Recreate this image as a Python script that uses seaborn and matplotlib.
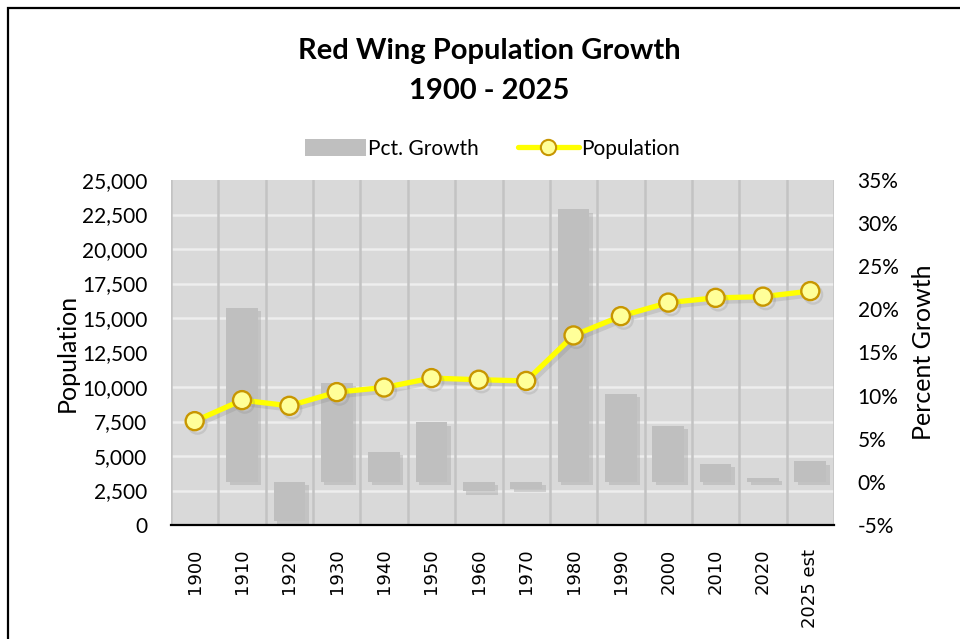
import matplotlib
matplotlib.use("Agg")
import matplotlib.pyplot as plt
import matplotlib.patheffects as pe
from matplotlib.lines import Line2D
from matplotlib.patches import Patch, Rectangle
from matplotlib.ticker import FuncFormatter, FixedLocator, MultipleLocator
import numpy as np
import pandas as pd
import seaborn as sns

years = ["1900", "1910", "1920", "1930", "1940", "1950", "1960", "1970",
         "1980", "1990", "2000", "2010", "2020", "2025 est"]
population = [7525, 9048, 8637, 9629, 9962, 10645, 10528, 10441,
              13736, 15134, 16116, 16459, 16547, 16950]
pct_growth = [0.0, 20.2, -4.5, 11.5, 3.5, 6.9, -1.1, -0.8,
              31.6, 10.2, 6.5, 2.1, 0.5, 2.4]

title = "Red Wing Population Growth\n1900 - 2025"

sns.set_theme(style="white")
plt.rcParams["font.family"] = ["Lato", "DejaVu Sans"]
plt.rcParams["text.color"] = "#000000"

df = pd.DataFrame({"year": years, "population": population, "pct": pct_growth})

fig = plt.figure(figsize=(9.6, 6.39), dpi=100)
ax = fig.add_axes([171 / 960, 1 - 525 / 639, (834 - 171) / 960, (525 - 180) / 639])
ax.set_facecolor("#d9d9d9")

# bars (percent growth) on main axes, scale shown on the right
sns.barplot(data=df, x="year", y="pct", ax=ax, color="#bfbfbf", saturation=1,
            width=0.67, zorder=3, linewidth=0)
for p in ax.patches:
    p.set_path_effects([pe.SimplePatchShadow(offset=(2.5, -2.5), shadow_rgbFace="#9a9a9a", alpha=0.35),
                        pe.Normal()])
ax.set_ylim(-5, 35)
ax.set_xlim(-0.5, len(years) - 0.5)

# line (population) on twin axes, scale shown on the left
ax2 = ax.twinx()
x_pos = np.arange(len(years))
sns.lineplot(x=x_pos, y=df["population"], ax=ax2, color="#ffff00", linewidth=3.8,
             marker="o", markersize=13, markerfacecolor="#ffff99",
             markeredgecolor="#c89600", markeredgewidth=1.7, zorder=5, sort=False)
for ln in ax2.lines:
    ln.set_path_effects([pe.SimpleLineShadow(offset=(2, -2.5), shadow_color="#808080", alpha=0.22),
                         pe.Normal()])
ax2.set_ylim(0, 25000)
ax2.set_xlim(-0.5, len(years) - 0.5)

# axis positions: population on left, percent on right
ax.yaxis.tick_right()
ax.yaxis.set_label_position("right")
ax2.yaxis.tick_left()
ax2.yaxis.set_label_position("left")

ax.yaxis.set_major_locator(MultipleLocator(5))
ax.yaxis.set_major_formatter(FuncFormatter(lambda v, _: f"{v:.0f}%"))
ax2.yaxis.set_major_locator(MultipleLocator(2500))
ax2.yaxis.set_major_formatter(FuncFormatter(lambda v, _: f"{v:,.0f}"))

# gridlines (aligned with population ticks) behind bars
grid_vals = np.arange(2500, 25001, 2500)
ax.yaxis.set_minor_locator(FixedLocator(-5 + grid_vals / 25000 * 40))
ax.grid(which="minor", axis="y", color="#eeeeee", linewidth=1.8, zorder=1)
ax.grid(which="major", axis="y", visible=False)
ax.tick_params(which="minor", length=0)
for k in range(len(years) + 1):
    ax.axvline(k - 0.5, color="#c3c3c3", linewidth=1.8, zorder=1.5)

ax.tick_params(axis="y", which="major", length=0, pad=17, labelsize=15, colors="#000000")
ax2.tick_params(axis="y", length=0, pad=17, labelsize=15, colors="#000000")
for lab in ax.get_yticklabels() + ax2.get_yticklabels():
    lab.set_fontfamily(["Lato", "DejaVu Sans"])

ax.set_xticks(x_pos)
ax.set_xticklabels(years, rotation=90, fontsize=13, family="DejaVu Sans", color="#000000")
ax.tick_params(axis="x", length=0, pad=17)
ax2.tick_params(axis="x", length=0)

ax.set_xlabel("")
ax.set_ylabel("Percent Growth", fontsize=18, labelpad=10, color="#000000")
ax2.set_ylabel("Population", fontsize=18, labelpad=2, color="#000000")

for a in (ax, ax2):
    for s in ("top", "left", "right"):
        a.spines[s].set_visible(False)
ax2.spines["bottom"].set_visible(False)
ax.spines["bottom"].set_visible(True)
ax.spines["bottom"].set_color("#000000")
ax.spines["bottom"].set_linewidth(1.6)
ax.spines["bottom"].set_zorder(6)

fig.suptitle(title, x=0.51, y=1 - 38 / 639, fontsize=21, fontweight="bold",
             va="top", linespacing=1.68, color="#000000")

handles = [Patch(facecolor="#bfbfbf", edgecolor="none"),
           Line2D([0], [0], color="#ffff00", linewidth=3.8, marker="o", markersize=11,
                  markerfacecolor="#ffff99", markeredgecolor="#c89600", markeredgewidth=1.5)]
fig.legend(handles, ["Pct. Growth", "Population"], loc="center", ncol=2,
           bbox_to_anchor=(0.513, 1 - 149 / 639), frameon=False, fontsize=15,
           handlelength=2.9, handleheight=0.9, columnspacing=1.9, handletextpad=0.1,
           labelcolor="#000000")

fig.patches.append(Rectangle((8 / 960, -0.1), 1.2, 1.1 - 8 / 639, transform=fig.transFigure,
                             fill=False, edgecolor="#000000", linewidth=1.6))

fig.savefig("out.png", dpi=100)
